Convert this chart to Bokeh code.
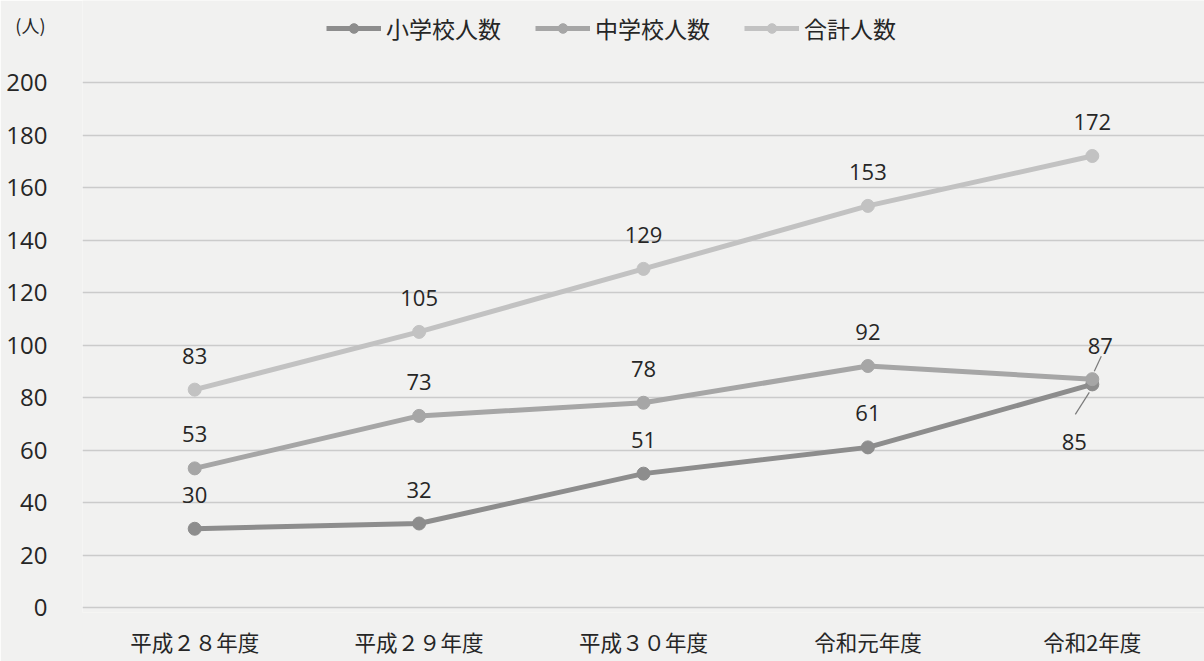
from bokeh.plotting import figure
from bokeh.models import Range1d, FixedTicker, Legend, LegendItem, LinearAxis
from bokeh.core.properties import value
from bokeh.embed import file_html
from bokeh.resources import INLINE

# 年度別の児童生徒数
years = ["平成２８年度", "平成２９年度", "平成３０年度", "令和元年度", "令和2年度"]
elementary = [30, 32, 51, 61, 85]   # 小学校人数
junior = [53, 73, 78, 92, 87]       # 中学校人数
total = [83, 105, 129, 153, 172]    # 合計人数
y_ticks = [0, 20, 40, 60, 80, 100, 120, 140, 160, 180, 200]
unit_text = "(人)"

BG = "#f1f1f0"
C_ELEM = "#8d8d8d"
C_JUN = "#a6a6a6"
C_TOT = "#c2c2c2"
TXT = "#262626"
JP = "Noto Sans CJK JP"
NUM = "Open Sans"

W, H = 1204, 661
LEFT, BOTTOM = 82, 49
FRAME_W, FRAME_H = W - LEFT, H - BOTTOM
Y0, Y1 = -1.9, 231.24
X0, X1 = -0.5, 4.5
PX_Y = FRAME_H / (Y1 - Y0)   # pixels per person
PX_X = FRAME_W / (X1 - X0)   # pixels per category
UNIT_Y = 222                 # height of the unit caption, in axis units

p = figure(width=W, height=H, x_range=Range1d(X0, X1), y_range=Range1d(Y0, Y1),
           output_backend="svg", toolbar_location=None,
           min_border_left=LEFT, min_border_right=0, min_border_top=0,
           min_border_bottom=BOTTOM)
p.background_fill_color = BG
p.border_fill_color = BG
p.outline_line_color = None

# value axis
p.yaxis.ticker = FixedTicker(ticks=y_ticks)
p.yaxis.axis_line_color = None
p.yaxis.major_tick_line_color = None
p.yaxis.major_tick_out = 0
p.yaxis.major_tick_in = 0
p.yaxis.minor_tick_line_color = None
p.yaxis.major_label_standoff = 35
p.yaxis.major_label_text_font = NUM
p.yaxis.major_label_text_font_size = "24px"
p.yaxis.major_label_text_color = TXT
p.ygrid.ticker = FixedTicker(ticks=y_ticks)

# unit caption at the top of the value axis
unit_axis = LinearAxis(ticker=FixedTicker(ticks=[UNIT_Y]),
                       major_label_overrides={UNIT_Y: unit_text},
                       axis_line_color=None, major_tick_line_color=None,
                       minor_tick_line_color=None, major_tick_out=0, major_tick_in=0,
                       major_label_standoff=-42, major_label_text_font=JP,
                       major_label_text_font_size="18px", major_label_text_color=TXT)
p.add_layout(unit_axis, "left")

# category axis
xs = list(range(len(years)))
p.xaxis.ticker = FixedTicker(ticks=xs)
p.xaxis.major_label_overrides = {i: y for i, y in enumerate(years)}
p.xaxis.axis_line_color = None
p.xaxis.major_tick_line_color = None
p.xaxis.major_tick_out = 0
p.xaxis.major_tick_in = 0
p.xaxis.minor_tick_line_color = None
p.xaxis.major_label_standoff = 13
p.xaxis.major_label_text_font = JP
p.xaxis.major_label_text_font_size = "21.5px"
p.xaxis.major_label_text_color = TXT

p.xgrid.grid_line_color = None
p.ygrid.grid_line_color = "#cbcbcb"
p.ygrid.grid_line_width = 1.5

# series
series = [("小学校人数", elementary, C_ELEM),
          ("中学校人数", junior, C_JUN),
          ("合計人数", total, C_TOT)]
items = []
for name, vals, col in series:
    ln = p.line(xs, vals, line_color=col, line_width=5)
    mk = p.scatter(xs, vals, size=13, fill_color=col, line_color=col)
    items.append(LegendItem(label=name, renderers=[ln, mk]))

legend = Legend(items=items, orientation="horizontal", location=(244, 567),
                glyph_width=55, glyph_height=24, label_height=24,
                label_standoff=5, spacing=34, padding=0, margin=0,
                border_line_color=None, background_fill_alpha=0,
                label_text_font=JP, label_text_font_size="23px",
                label_text_color=TXT)
p.add_layout(legend, "center")

# data labels: default 34px above the point
def above(vals, px=34):
    return [v + px / PX_Y for v in vals]

lab_style = dict(text_font=value(NUM), text_font_size="22px", text_color=TXT,
                 text_align="center", text_baseline="middle")

p.text(xs, above(total), text=[str(v) for v in total], **lab_style)
p.text(xs[:4], above(junior[:4]), text=[str(v) for v in junior[:4]], **lab_style)
p.text(xs[:4], above(elementary[:4]), text=[str(v) for v in elementary[:4]], **lab_style)

# last year: the two close points get offset labels with leader lines
last = xs[-1]
p.text([last + 8 / PX_X], [junior[-1] + 33 / PX_Y], text=[str(junior[-1])], **lab_style)
p.text([last - 18 / PX_X], [elementary[-1] - 58 / PX_Y], text=[str(elementary[-1])], **lab_style)
p.segment(x0=[last + 2 / PX_X], y0=[junior[-1] + 8 / PX_Y],
          x1=[last + 9 / PX_X], y1=[junior[-1] + 23 / PX_Y],
          line_color="#7a7a7a", line_width=1.2)
p.segment(x0=[last - 3 / PX_X], y0=[elementary[-1] - 8 / PX_Y],
          x1=[last - 17 / PX_X], y1=[elementary[-1] - 30 / PX_Y],
          line_color="#7a7a7a", line_width=1.2)

open("out.html", "w").write(file_html(p, INLINE))
